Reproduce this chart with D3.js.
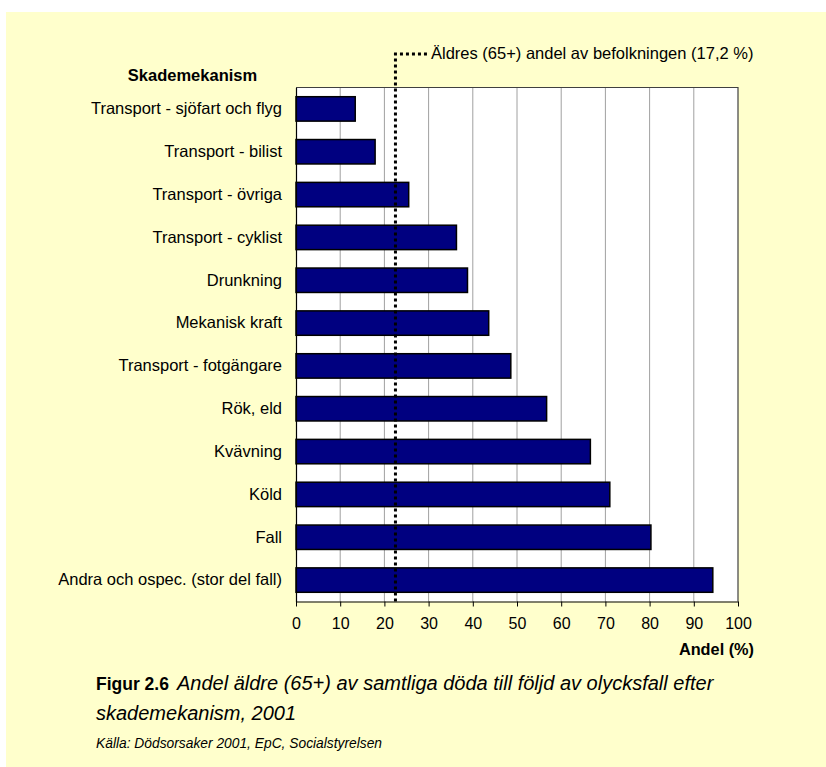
<!DOCTYPE html>
<html>
<head>
<meta charset="utf-8">
<script src="https://cdn.jsdelivr.net/npm/d3@7"></script>
<style>
  html, body { margin: 0; padding: 0; background: #ffffff; }
  svg { display: block; font-family: "Liberation Sans", Arial, sans-serif; }
</style>
</head>
<body>
<svg id="chart" width="826" height="767"></svg>
<script>
const categories = [
  "Transport - sjöfart och flyg",
  "Transport - bilist",
  "Transport - övriga",
  "Transport - cyklist",
  "Drunkning",
  "Mekanisk kraft",
  "Transport - fotgängare",
  "Rök, eld",
  "Kvävning",
  "Köld",
  "Fall",
  "Andra och ospec. (stor del fall)"
];
const values = [13.4, 17.9, 25.5, 36.3, 38.8, 43.6, 48.6, 56.7, 66.6, 71.0, 80.3, 94.3];
const tickValues = [0, 10, 20, 30, 40, 50, 60, 70, 80, 90, 100];
const referenceValue = [22.5];
const referenceLabel = ["Äldres (65+) andel av befolkningen (17,2 %)"];
const axisTitleY = "Skademekanism";
const axisTitleX = "Andel (%)";
const captionBold = "Figur 2.6";
const captionLines = ["Andel äldre (65+) av samtliga döda till följd av olycksfall efter", "skademekanism, 2001"];
const sourceText = "Källa: Dödsorsaker 2001, EpC, Socialstyrelsen";

const svg = d3.select("#chart");
const W = 826, H = 767;
const plot = { left: 296, right: 738, top: 87.5, bottom: 601.5 };
const FONT = "Liberation Sans, Arial, sans-serif";

svg.append("rect").attr("x", 6).attr("y", 12).attr("width", W - 6).attr("height", H - 12).attr("fill", "#ffffcc");

const x = d3.scaleLinear().domain([0, 100]).range([plot.left, plot.right]);
const y = d3.scaleBand().domain(categories).range([plot.top, plot.bottom]).paddingInner(0.43).paddingOuter(0.215);

// plot background
svg.append("rect").attr("x", plot.left).attr("y", plot.top)
  .attr("width", plot.right - plot.left).attr("height", plot.bottom - plot.top)
  .attr("fill", "#ffffff");

// gridlines
svg.append("g").selectAll("line").data(tickValues.filter(d => d > 0 && d < 100)).join("line")
  .attr("x1", d => x(d)).attr("x2", d => x(d))
  .attr("y1", plot.top).attr("y2", plot.bottom)
  .attr("stroke", "#a0a0a0").attr("stroke-width", 1);

// plot border (top & right)
svg.append("path")
  .attr("d", `M${plot.left},${plot.top}H${plot.right}V${plot.bottom}`)
  .attr("fill", "none").attr("stroke", "#404040").attr("stroke-width", 1.2);

// bars
svg.append("g").selectAll("rect").data(categories).join("rect")
  .attr("x", x(0))
  .attr("y", d => y(d))
  .attr("width", (d, i) => x(values[i]) - x(0))
  .attr("height", y.bandwidth())
  .attr("fill", "#000080")
  .attr("stroke", "#000000").attr("stroke-width", 1.5);

// x axis
const xAxis = d3.axisBottom(x).tickValues(tickValues).tickSize(5).tickSizeOuter(0).tickPadding(11);
const gx = svg.append("g").attr("transform", `translate(0,${plot.bottom})`).call(xAxis);
gx.select(".domain").attr("stroke", "#000").attr("stroke-width", 1.2);
gx.selectAll(".tick line").attr("stroke", "#000");
gx.selectAll(".tick text").attr("font-size", 16).attr("fill", "#000").attr("font-family", FONT);

// y axis
const yAxis = d3.axisLeft(y).tickSize(0).tickPadding(14);
const gy = svg.append("g").attr("transform", `translate(${plot.left},0)`).call(yAxis);
gy.select(".domain").attr("stroke", "#000").attr("stroke-width", 1.2);
gy.selectAll(".tick text").attr("font-size", 16.5).attr("fill", "#000").attr("font-family", FONT);

// reference dotted line
const rx = x(referenceValue[0]);
svg.append("path")
  .attr("d", `M${rx},${plot.bottom}V54H428`)
  .attr("fill", "none").attr("stroke", "#000").attr("stroke-width", 3)
  .attr("stroke-dasharray", "3,3");
svg.append("text").attr("x", 431).attr("y", 59).attr("font-size", 16.5).attr("fill", "#000")
  .text(referenceLabel[0]);

// axis titles
svg.append("text").attr("x", 192.5).attr("y", 81).attr("text-anchor", "middle")
  .attr("font-size", 16.5).attr("font-weight", "bold").text(axisTitleY);
svg.append("text").attr("x", 754).attr("y", 655).attr("text-anchor", "end")
  .attr("font-size", 16.3).attr("font-weight", "bold").text(axisTitleX);

// caption
const cap = svg.append("text").attr("x", 96).attr("y", 690);
cap.append("tspan").attr("font-weight", "bold").attr("font-size", 17.5).text(captionBold);
cap.append("tspan").attr("font-style", "italic").attr("font-size", 20).attr("dx", 8).text(captionLines[0]);
svg.append("text").attr("x", 96).attr("y", 720).attr("font-size", 20).attr("font-style", "italic").text(captionLines[1]);
svg.append("text").attr("x", 96).attr("y", 748).attr("font-size", 13.8).attr("font-style", "italic").text(sourceText);
</script>
</body>
</html>
